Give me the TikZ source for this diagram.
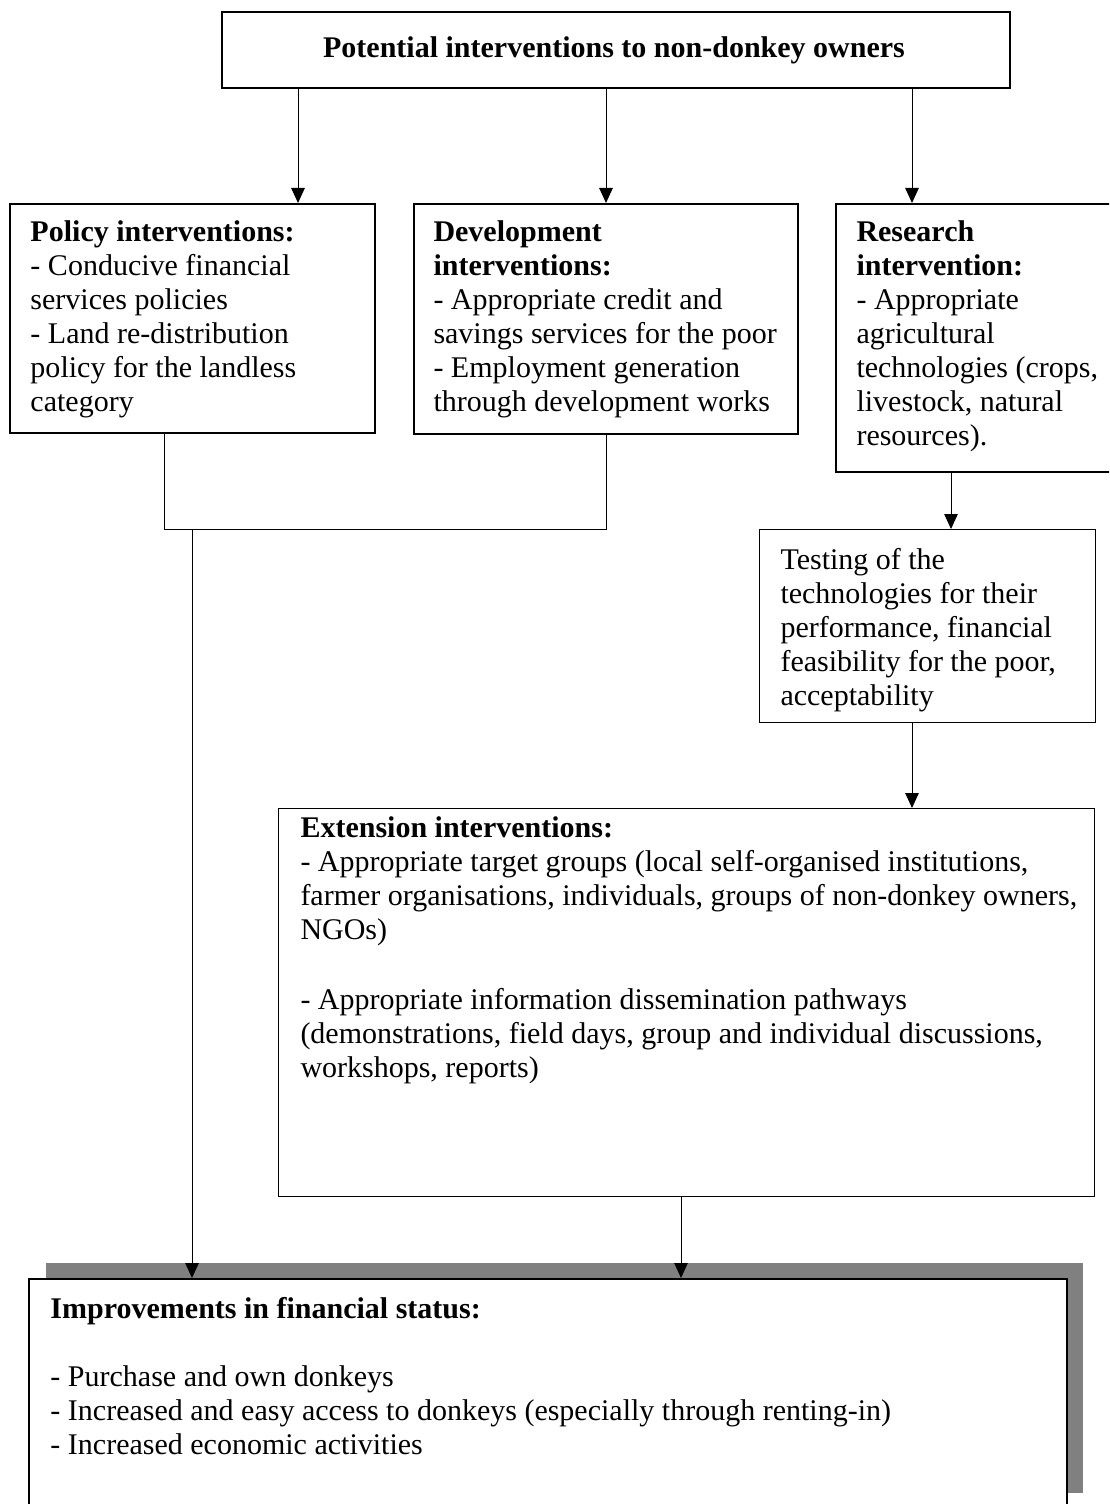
\documentclass[tikz,border=0pt]{standalone}
\usepackage{fontspec}
\setmainfont{Liberation Serif}
\usetikzlibrary{arrows.meta}

\tikzset{
  box/.style={draw, line width=0.8pt, anchor=north west, inner sep=0pt, fill=white},
  thinbox/.style={box, line width=0.4pt},
  sized/.style 2 args={minimum width=#1*0.4pt, minimum height=#2*0.4pt},
  txt/.style={anchor=north west, align=left, inner sep=0pt, font=\fontsize{12}{13.6}\selectfont},
  link/.style={line width=0.4pt},
  arr/.style={link, -{Triangle[length=6pt,width=5.4pt]}}
}

\begin{document}
\begin{tikzpicture}[x=0.4pt, y=-0.4pt]
\useasboundingbox (0,0) rectangle (1109,1504);
\clip (0,0) rectangle (1109,1504);
% boxes
\node[box, sized={788}{76}] (top) at (221,11) {};
\node[box, sized={365}{229}] (policy) at (9,203) {};
\node[box, sized={384}{230}] (devel) at (413,203) {};
\node[box, sized={300}{268}] (research) at (835,203) {};
\node[thinbox, sized={336}{193}] (testing) at (759,529) {};
\node[thinbox, sized={816}{388}] (extension) at (278,808) {};
\node[fill=gray, anchor=north west, inner sep=0pt, sized={1037}{230}] (shadow) at (45,1262) {};
\node[box, sized={1038}{240}] (improve) at (28,1278) {};
% texts
\node[txt, anchor=base, font=\fontsize{12}{13.6}\selectfont\bfseries] (toplabel) at (614,58) {Potential interventions to non-donkey owners};
\node[txt] (policylabel) at (30,220.5) {\textbf{Policy interventions:}\\- Conducive financial\\services policies\\- Land re-distribution\\policy for the landless\\category};
\node[txt] (devellabel) at (433,220.5) {\textbf{Development}\\\textbf{interventions:}\\- Appropriate credit and\\savings services for the poor\\- Employment generation\\through development works};
\node[txt] (researchlabel) at (856,220.5) {\textbf{Research}\\\textbf{intervention:}\\- Appropriate\\agricultural\\technologies (crops,\\livestock, natural\\resources).};
\node[txt] (testinglabel) at (780,548) {Testing of the\\technologies for their\\performance, financial\\feasibility for the poor,\\acceptability};
\node[txt] (extensionlabel) at (300,816) {\textbf{Extension interventions:}\\- Appropriate target groups (local self-organised institutions,\\farmer organisations, individuals, groups of non-donkey owners,\\NGOs)\\[14.4pt]- Appropriate information dissemination pathways\\(demonstrations, field days, group and individual discussions,\\workshops, reports)};
\node[txt] (improvelabel) at (50,1297) {\textbf{Improvements in financial status:}\\[13.6pt]- Purchase and own donkeys\\- Increased and easy access to donkeys (especially through renting-in)\\- Increased economic activities};
% connectors
\coordinate (c1) at (298,0);
\coordinate (c2) at (164,0);
\coordinate (c3) at (0,529);
\coordinate (c4) at (192,529);
\coordinate (c5) at (951,0);
\coordinate (c6) at (912,0);
\coordinate (c7) at (681,0);
\draw[arr] (c1 |- top.south) -- (c1 |- policy.north);
\draw[arr] (top.south -| devel.north) -- (devel.north);
\draw[arr] (c6 |- top.south) -- (c6 |- research.north);
\draw[link] (c2 |- policy.south) |- (devel.south |- c3) -- (devel.south);
\draw[arr] (c4) -- (c4 |- improve.north);
\draw[arr] (c5 |- research.south) -- (c5 |- testing.north);
\draw[arr] (c6 |- testing.south) -- (c6 |- extension.north);
\draw[arr] (c7 |- extension.south) -- (c7 |- improve.north);
\end{tikzpicture}
\end{document}
